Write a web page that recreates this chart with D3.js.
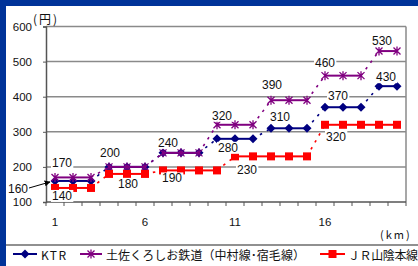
<!DOCTYPE html>
<html>
<head>
<meta charset="utf-8">
<script src="https://cdn.jsdelivr.net/npm/d3@7"></script>
<style>
  body { margin: 0; background: #fff; }
  svg { display: block; font-family: "Liberation Sans", Arial, sans-serif; }
</style>
</head>
<body>
<svg id="chart" width="418" height="266"></svg>
<script>
// 距離(km)
const km = [1, 2, 3, 4, 5, 6, 7, 8, 9, 10, 11, 12, 13, 14, 15, 16, 17, 18, 19, 20]
const kmTicks = [1, 6, 11, 16]
const yTicks = [100, 200, 300, 400, 500, 600]

// 運賃(円)
const ktr = [160, 160, 160, 200, 200, 200, 240, 240, 240, 280, 280, 280, 310, 310, 310, 370, 370, 370, 430, 430]
const tosa = [170, 170, 170, 200, 200, 200, 240, 240, 240, 320, 320, 320, 390, 390, 390, 460, 460, 460, 530, 530]
const jr = [140, 140, 140, 180, 180, 180, 190, 190, 190, 190, 230, 230, 230, 230, 230, 320, 320, 320, 320, 320]

const seriesNames = ["KTR", "土佐くろしお鉄道（中村線･宿毛線）", "ＪＲ山陰本線"]

const svg = d3.select("#chart")
const W = 418, H = 266

const x = d3.scaleBand().domain(km).range([46, 406])
const y = d3.scaleLinear().domain([100, 600]).range([202, 26.5])
const cx = d => x(d) + x.bandwidth() / 2

// 外枠
svg.append("rect").attr("width", W).attr("height", H).attr("fill", "#fff")
svg.append("rect").attr("x", 0).attr("y", 0).attr("width", W).attr("height", 6).attr("fill", "#003399")
svg.append("rect").attr("x", 0).attr("y", 0).attr("width", 6).attr("height", H).attr("fill", "#003399")

// グリッド
svg.append("g").selectAll("line")
  .data(yTicks.filter(v => v > 100))
  .join("line")
  .attr("x1", 46).attr("x2", 406)
  .attr("y1", d => y(d)).attr("y2", d => y(d))
  .attr("stroke", "#8a8a8a").attr("stroke-width", 1.5)
svg.append("line").attr("x1", 406).attr("x2", 406).attr("y1", y(600)).attr("y2", y(100))
  .attr("stroke", "#8a8a8a").attr("stroke-width", 1.5)

// 軸
const yAxis = svg.append("g").attr("transform", "translate(46,0)")
  .call(d3.axisLeft(y).tickValues(yTicks).tickSize(3).tickFormat(d3.format("d")))
yAxis.select(".domain").attr("stroke", "#555").attr("stroke-width", 1.5)
yAxis.selectAll(".tick line").attr("stroke", "#555")
yAxis.selectAll(".tick text").attr("x", -14).attr("font-size", 11.5)
  .attr("font-family", "Liberation Sans, Arial, sans-serif").attr("fill", "#111")

svg.append("line").attr("x1", 46).attr("x2", 406).attr("y1", y(100)).attr("y2", y(100))
  .attr("stroke", "#555").attr("stroke-width", 1.5)
svg.append("g").selectAll("line")
  .data(km.concat([21]))
  .join("line")
  .attr("x1", d => d === 21 ? 406 : x(d)).attr("x2", d => d === 21 ? 406 : x(d))
  .attr("y1", y(100)).attr("y2", y(100) + 4)
  .attr("stroke", "#555").attr("stroke-width", 1)
svg.append("g").selectAll("text")
  .data(kmTicks)
  .join("text")
  .attr("x", d => cx(d)).attr("y", 226)
  .attr("text-anchor", "middle").attr("font-size", 11.5).attr("fill", "#111")
  .text(d => d)

svg.append("text").attr("x", 33).attr("y", 24).attr("font-size", 12)
  .attr("font-family", "Noto Sans CJK JP").attr("fill", "#111")
  .attr("letter-spacing", 2).text("(円)")
svg.append("text").attr("x", 380).attr("y", 239).attr("font-size", 11)
  .attr("font-family", "Noto Sans CJK JP").attr("fill", "#111")
  .attr("letter-spacing", 2).text("(km)")

// 系列
function star(g, s) {
  g.append("path")
    .attr("d", `M${-s},${-s}L${s},${s}M${-s},${s}L${s},${-s}M0,${-s - 1}L0,${s + 1}`)
}
const series = [
  { name: seriesNames[0], values: ktr, color: "#000080", marker: "diamond" },
  { name: seriesNames[1], values: tosa, color: "#800080", marker: "star" },
  { name: seriesNames[2], values: jr, color: "#ff0000", marker: "square" }
]

function drawMarker(g, type, color) {
  if (type === "diamond") {
    g.append("path").attr("d", "M0,-4.5L4.5,0L0,4.5L-4.5,0Z").attr("fill", color)
  } else if (type === "square") {
    g.append("rect").attr("x", -4).attr("y", -4).attr("width", 8).attr("height", 8).attr("fill", color)
  } else {
    const s = g.append("g").attr("stroke", color).attr("stroke-width", 1.3)
    star(s, 3.5)
  }
}

series.forEach(s => {
  const g = svg.append("g")
  const segs = d3.pairs(s.values.map((v, i) => ({ k: km[i], v })))
  g.selectAll("line")
    .data(segs)
    .join("line")
    .attr("x1", d => cx(d[0].k)).attr("y1", d => y(d[0].v))
    .attr("x2", d => cx(d[1].k)).attr("y2", d => y(d[1].v))
    .attr("stroke", s.color)
    .attr("stroke-width", d => d[0].v === d[1].v ? 2 : 1.6)
    .attr("stroke-dasharray", d => d[0].v === d[1].v ? null : "2.5,5.5")
  g.selectAll("g")
    .data(s.values.map((v, i) => ({ k: km[i], v })))
    .join("g")
    .attr("transform", d => `translate(${cx(d.k)},${y(d.v)})`)
    .each(function () { drawMarker(d3.select(this), s.marker, s.color) })
})

// データラベル [系列, km, dx, dy]
const labelPlace = [
  [1, 1, 7, -14], [2, 1, 7, 8],
  [1, 4, 1, -14], [2, 5, 1, 10],
  [1, 7, 5, -10], [2, 7, 9, 8],
  [1, 10, 5, -9], [0, 10, 11, 9], [2, 11, 12, 14],
  [1, 13, 1, -15], [0, 13, 9, -11],
  [1, 16, 0, -13], [0, 16, 13, -11], [2, 16, 11, 12],
  [1, 19, 3, -10], [0, 19, 7, -9]
]
const lg = svg.append("g")
labelPlace.forEach(([si, k, dx, dy]) => {
  const v = series[si].values[k - 1]
  const t = lg.append("text")
    .attr("x", cx(k) + dx).attr("y", y(v) + dy)
    .attr("text-anchor", "middle").attr("dominant-baseline", "central")
    .attr("font-size", 12).attr("fill", "#111").text(v)
  const b = t.node().getBBox()
  lg.insert("rect", () => t.node())
    .attr("x", b.x - 1).attr("y", b.y + 1).attr("width", b.width + 2).attr("height", b.height - 2)
    .attr("fill", "#fff")
})

// 160 の引出し線
svg.append("defs").append("marker")
  .attr("id", "arr").attr("viewBox", "0 0 10 10").attr("refX", 9).attr("refY", 5)
  .attr("markerWidth", 6).attr("markerHeight", 6).attr("orient", "auto")
  .append("path").attr("d", "M0,0L10,5L0,10Z").attr("fill", "#000")
svg.append("text").attr("x", 18).attr("y", 189)
  .attr("text-anchor", "middle").attr("dominant-baseline", "central")
  .attr("font-size", 12).attr("fill", "#111").text(ktr[0])
svg.append("line").attr("x1", 29).attr("y1", 188).attr("x2", cx(1) - 5).attr("y2", y(ktr[0]) + 1)
  .attr("stroke", "#000").attr("stroke-width", 1).attr("marker-end", "url(#arr)")

// 凡例
svg.append("line").attr("x1", 6).attr("x2", W).attr("y1", 245).attr("y2", 245)
  .attr("stroke", "#222").attr("stroke-width", 1.2)
const legendX = [[13, 37, 41, 25], [80, 102, 106, 199], [320, 345, 348, 70]]
series.forEach((s, i) => {
  const [a, b, tx, tl] = legendX[i]
  const g = svg.append("g")
  g.append("line").attr("x1", a).attr("x2", b).attr("y1", 254).attr("y2", 254)
    .attr("stroke", s.color).attr("stroke-width", 2)
  drawMarker(g.append("g").attr("transform", `translate(${(a + b) / 2},254)`), s.marker, s.color)
  g.append("text").attr("x", tx).attr("y", 254).attr("dominant-baseline", "central")
    .attr("font-family", "Noto Sans CJK JP").attr("font-size", 12).attr("fill", "#111")
    .attr("textLength", tl).attr("lengthAdjust", "spacing")
    .text(s.name)
})
</script>
</body>
</html>
